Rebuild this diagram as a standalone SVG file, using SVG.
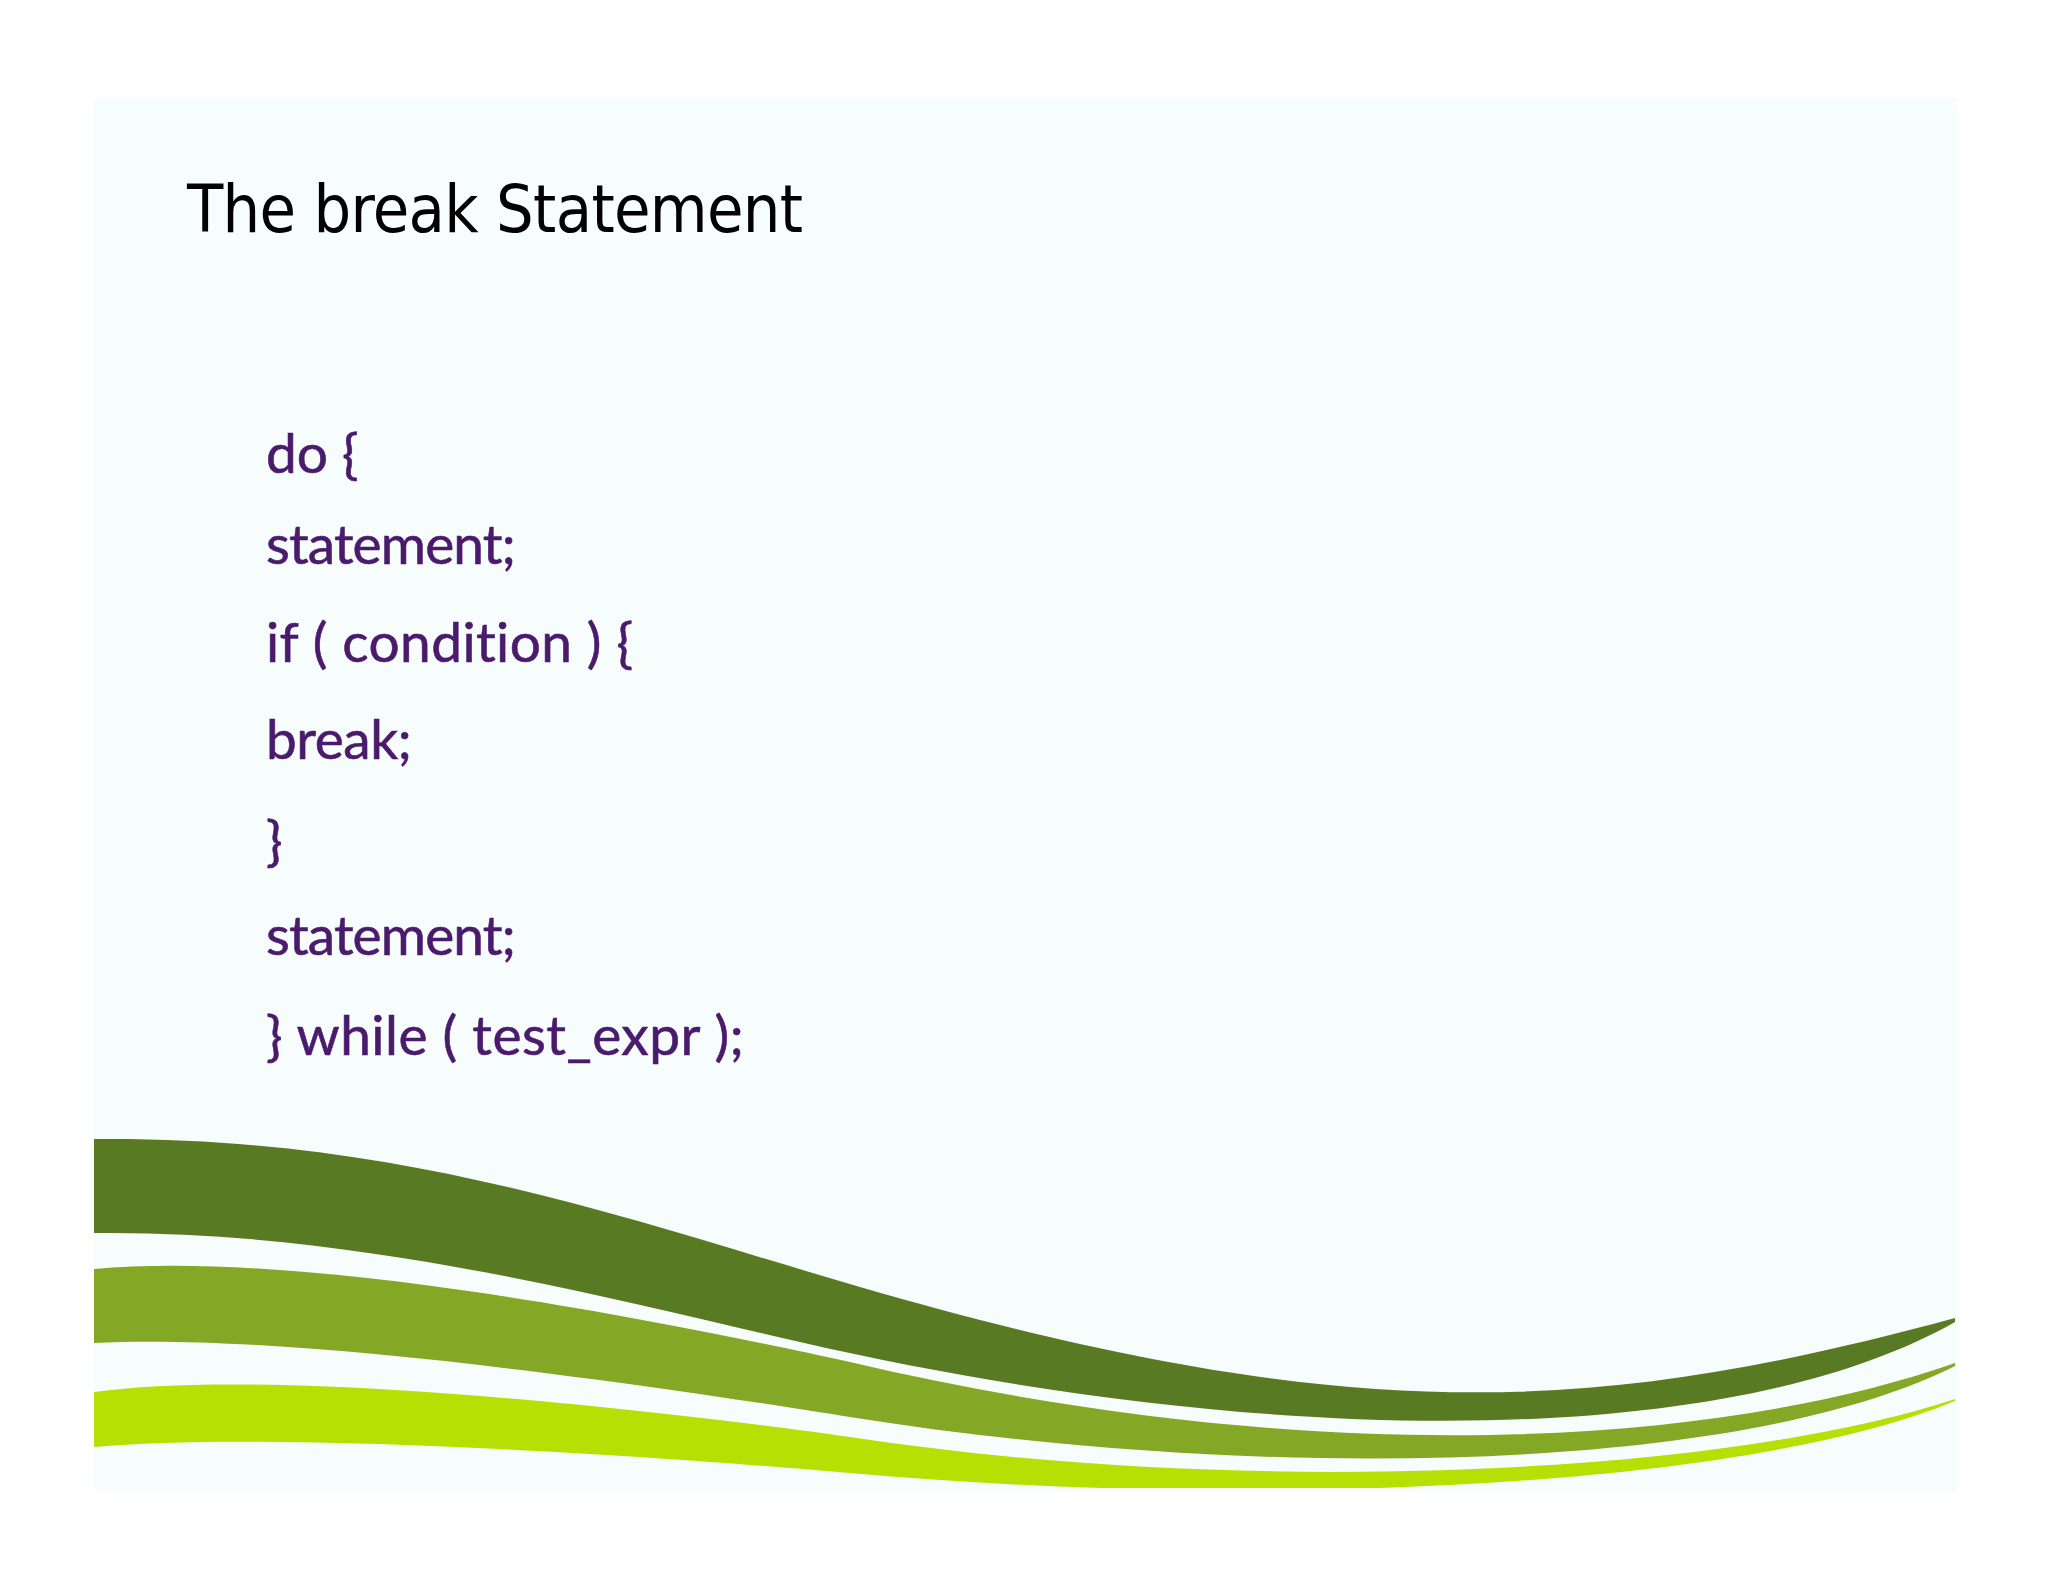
<svg xmlns="http://www.w3.org/2000/svg" width="2048" height="1582" viewBox="0 0 2048 1582">
<defs>
<style>
.title{font-family:"DejaVu Sans Condensed","DejaVu Sans",sans-serif;font-stretch:condensed;font-size:66px;fill:#000}
.code{font-family:Lato,"Open Sans",sans-serif;font-size:55px;fill:#4a1a6c;stroke:#4a1a6c;stroke-width:0.6px;font-variant-ligatures:none}
</style>
<clipPath id="panelClip"><rect x="94" y="98" width="1863" height="1390"/></clipPath>
</defs>
<rect width="2048" height="1582" fill="#ffffff"/>
<rect id="panel" x="94" y="98" width="1863" height="1394" fill="#f7fcfc"/>
<g id="waves" clip-path="url(#panelClip)">
<path id="wave-dark" fill="#587a22" d="M94,1139 C400,1136 620,1217 860,1287 C1360,1432 1605,1412.5 1955,1318 L1955,1322 C1720,1455 1250,1445.5 800,1342 C600,1296 350,1230 94,1233 Z"/>
<path id="wave-mid" fill="#84a825" d="M94,1269 C300,1250 650,1318 850,1362 C1300,1468 1705,1450.5 1955,1363 L1955,1366 C1735,1476 1250,1481 850,1417 C680,1390 300,1332 94,1343 Z"/>
<path id="wave-light" fill="#b6e003" d="M94,1392 C280,1366 680,1413 850,1437 C1250,1498 1725,1475 1955,1399 L1955,1401 C1740,1490 1250,1509 850,1473 C680,1458 280,1430 94,1447 Z"/>
</g>
<g id="title"><text class="title" x="187" y="232" textLength="616">The break Statement</text></g>
<g id="code">
<text class="code" x="266" y="473">do {</text>
<text class="code" x="266" y="564" textLength="250">statement;</text>
<text class="code" x="266" y="662" textLength="367">if ( condition ) {</text>
<text class="code" x="266" y="759" textLength="146">break;</text>
<text class="code" x="266" y="860">}</text>
<text class="code" x="266" y="955" textLength="250">statement;</text>
<text class="code" x="266" y="1055" textLength="478">} while ( test_expr );</text>
</g>
</svg>
